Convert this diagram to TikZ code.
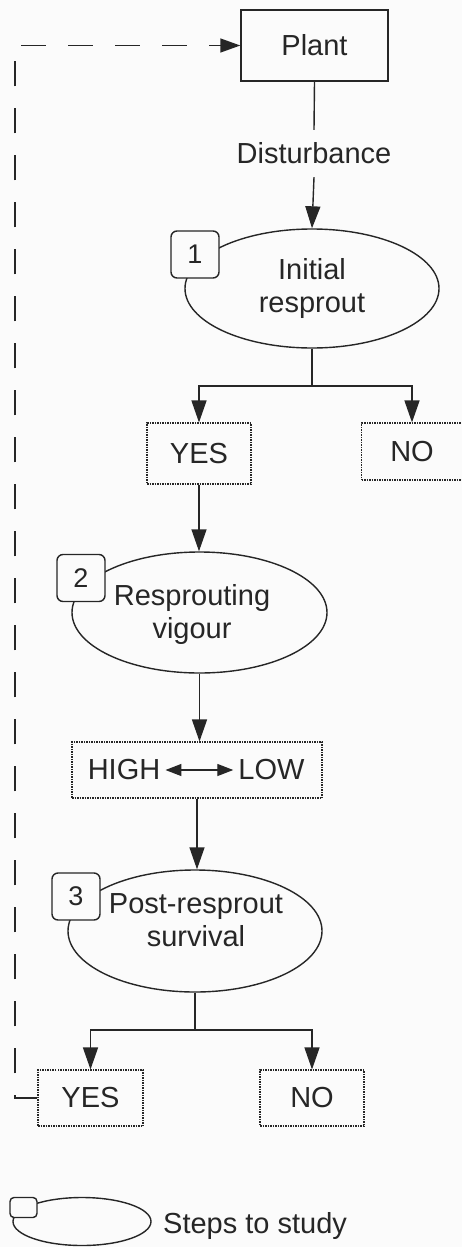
\documentclass[tikz,border=0pt]{standalone}
\usepackage{fontspec}
\setmainfont{Liberation Sans}
\usetikzlibrary{arrows.meta,shapes.geometric,calc}
\definecolor{ink}{RGB}{38,38,38}
\definecolor{bg}{RGB}{251,251,251}
\begin{document}
\begin{tikzpicture}[x=1pt,y=-1pt,
  every node/.style={font=\fontsize{29}{33}\selectfont, text=ink},
  line/.style={draw=ink, line width=1.4pt},
  arr/.style={line, -{Triangle[length=22pt,width=15pt]}},
  solidbox/.style={draw=ink, line width=1.4pt, inner sep=0pt},
  dotbox/.style={draw=ink, line width=1.1pt, dash pattern=on 1.5pt off 1pt, inner sep=0pt},
  stepell/.style={ellipse, draw=ink, line width=1.4pt, inner sep=0pt},
  badge/.style={draw=ink, line width=1.4pt, fill=bg, rounded corners=6pt, minimum width=48pt, minimum height=47pt, inner sep=0pt, font=\fontsize{27}{30}\selectfont},
  steptext/.style={align=center, inner sep=0pt},
  feedback/.style={draw=ink, line width=1.4pt, dash pattern=on 25pt off 22pt, -{Triangle[length=20pt,width=14pt]}}
]
\fill[bg] (0,0) rectangle (462,1247);
\useasboundingbox (0,0) rectangle (462,1247);

% nodes
\node[solidbox, minimum width=147pt, minimum height=71pt] (plant) at (314.5,45.5) {Plant};
\node[minimum height=47pt, inner sep=0pt] (dist) at (314,153.5) {Disturbance};

\node[stepell, minimum width=254pt, minimum height=119pt] (e1) at (312,288.5) {};
\node[steptext] (t1) at (312,288.5) {Initial\\resprout};
\node[badge] (b1) at (195,254.5) {1};

\node[dotbox, minimum width=104pt, minimum height=61pt] (yes1) at (199,453.5) {YES};
\node[dotbox, minimum width=101pt, minimum height=57pt] (no1) at (412,451.5) {NO};

\node[stepell, minimum width=255pt, minimum height=121pt] (e2) at (199.5,612.5) {};
\node[steptext] (t2) at (192,614) {Resprouting\\vigour};
\node[badge] (b2) at (81,578) {2};

\node[dotbox, minimum width=250pt, minimum height=56pt] (hl) at (197,770) {};
\node[inner sep=5pt] (high) at (124,770) {HIGH};
\node[inner sep=5pt] (low) at (271.5,770) {LOW};

\node[stepell, minimum width=254pt, minimum height=122pt] (e3) at (195,931) {};
\node[steptext] (t3) at (196,920) {Post-resprout\\survival};
\node[badge] (b3) at (76,896.5) {3};

\node[dotbox, minimum width=105pt, minimum height=56pt] (yes2) at (90.5,1098) {YES};
\node[dotbox, minimum width=104pt, minimum height=56pt] (no2) at (312,1098) {NO};

% legend
\node[stepell, minimum width=138pt, minimum height=48pt] (lege) at (82,1221.5) {};
\node[draw=ink, line width=1.4pt, fill=bg, rounded corners=4pt, minimum width=27pt, minimum height=20pt, inner sep=0pt] (legb) at (23.5,1207.5) {};
\node[anchor=base west, inner sep=0pt] (legt) at (163,1233) {Steps to study};

% coordinates
\coordinate (j1) at (312,386);
\coordinate (j2) at (195,1030);
\coordinate (fb) at (15,600);

% connectors
\draw[line] (plant.south) -- (dist.north);
\draw[arr] (dist.south) -- (e1.north);
\draw[line] (e1.south) -- (j1);
\draw[arr] (j1) -| (yes1.north);
\draw[arr] (j1) -| (no1.north);
\draw[arr] (yes1.south) -- (yes1.south |- e2.north);
\draw[arr] (e2.south) -- (e2.south |- hl.north);
\draw[line, {Triangle[length=16pt,width=12pt]}-{Triangle[length=16pt,width=12pt]}] (high.east) -- (low.west);
\draw[arr] (hl.south) -- (hl.south |- e3.north);
\draw[line] (e3.south) -- (j2);
\draw[arr] (j2) -| (yes2.north);
\draw[arr] (j2) -| (no2.north);
\draw[feedback] (yes2.west) -| (fb) |- (plant.west);
\end{tikzpicture}
\end{document}
